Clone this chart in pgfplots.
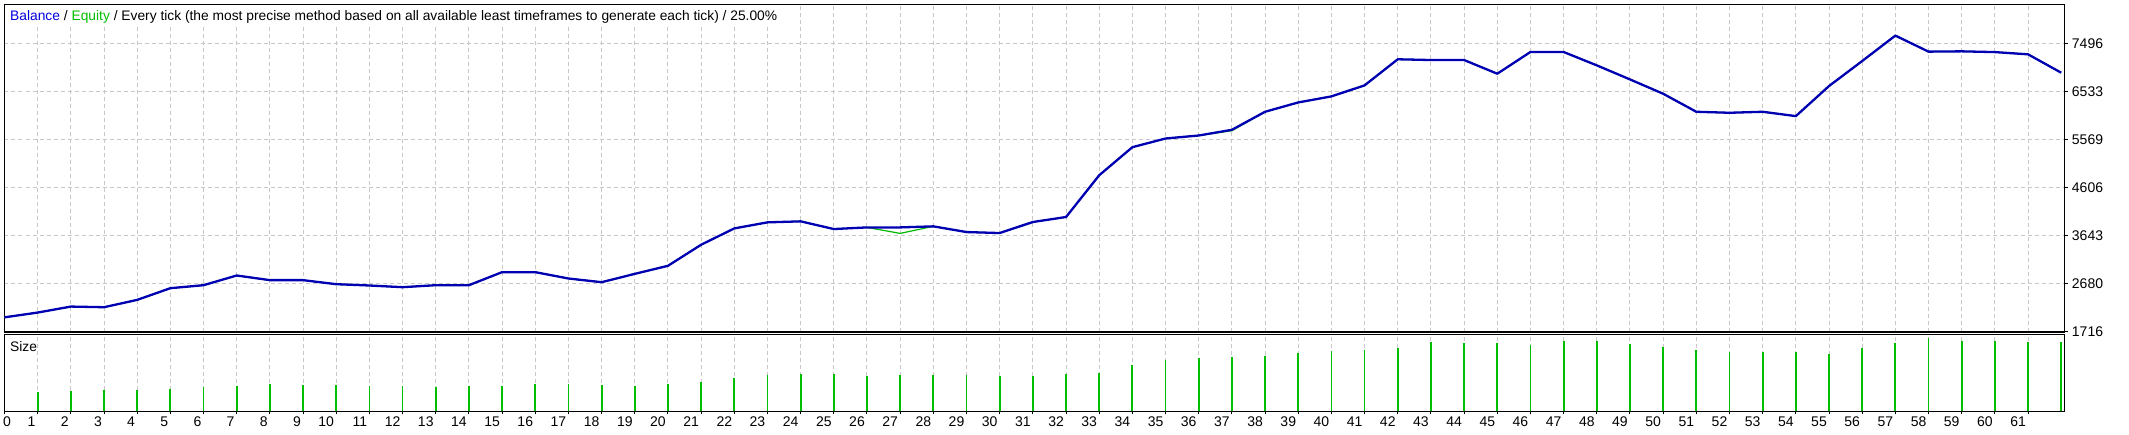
\documentclass[border=0pt]{standalone}
\usepackage{fontspec}
\setmainfont{Liberation Sans}
\usepackage{pgfplots}
\usepackage{pgfplotstable}
\pgfplotsset{compat=1.18}
\definecolor{balblue}{RGB}{0,0,178}
\definecolor{eqgreen}{RGB}{0,185,0}
\definecolor{sizegreen}{RGB}{0,190,0}
\definecolor{titleblue}{RGB}{0,0,220}
\definecolor{titlegreen}{RGB}{0,190,0}
\definecolor{gridgray}{RGB}{200,200,200}

\pgfplotstableread{
x bal eq
0 2010 2010
1 2105 2105
2 2225 2225
3 2212 2212
4 2359 2359
5 2593 2593
6 2653 2653
7 2847 2847
8 2754 2754
9 2754 2754
10 2673 2673
11 2647 2647
12 2613 2613
13 2653 2653
14 2653 2653
15 2914 2914
16 2914 2914
17 2787 2787
18 2713 2713
19 2880 2880
20 3041 3041
21 3463 3463
22 3790 3790
23 3911 3911
24 3931 3931
25 3777 3777
26 3810 3810
27 3810 3690
28 3831 3831
29 3717 3717
30 3697 3697
31 3918 3918
32 4018 4018
33 4854 4854
34 5416 5416
35 5590 5590
36 5650 5650
37 5764 5745
38 6125 6125
39 6312 6312
40 6433 6433
41 6654 6654
42 7176 7176
43 7161 7161
44 7161 7161
45 6887 6887
46 7322 7322
47 7322 7322
48 7054 7054
49 6773 6773
50 6486 6486
51 6125 6125
52 6105 6105
53 6125 6125
54 6038 6038
55 6640 6640
56 7141 7141
57 7650 7650
58 7329 7329
59 7335 7335
60 7320 7320
61 7275 7275
62 6907 6907
}\baldata

\pgfplotstableread{
x size
1 19.3
2 20.3
3 21.7
4 21.7
5 22.3
6 24.3
7 25.3
8 27.3
9 26.3
10 26.3
11 25.3
12 25.3
13 24.3
14 25.3
15 25.3
16 27.3
17 27.3
18 26.3
19 25.3
20 27.3
21 29.3
22 33.3
23 36.3
24 37.3
25 37.3
26 35.3
27 36.3
28 36.3
29 36.3
30 35.3
31 35.3
32 37.3
33 38.7
34 46.3
35 51.3
36 53.3
37 54.3
38 55.3
39 58.7
40 60.3
41 61.3
42 63.3
43 69.7
44 68.7
45 68.7
46 66.7
47 70.7
48 70.7
49 67.7
50 64.7
51 61.3
52 59.0
53 59.0
54 59.0
55 57.7
56 63.7
57 68.7
58 73.3
59 70.7
60 70.7
61 69.7
62 69.0
}\sizedata

\begin{document}
\begin{tikzpicture}
\useasboundingbox (0pt,0pt) rectangle (2129pt,435pt);
% ---------- top panel: balance / equity ----------
\begin{axis}[
  at={(4.5pt,103pt)}, anchor=south west,
  scale only axis, width=2060pt, height=327.7pt,
  xmin=0, xmax=62.1, ymin=1716, ymax=8277,
  xtick={1,...,61}, xticklabels={},
  xtick style={draw=none},
  ytick={1716,2679.33,3642.67,4606,5569.33,6532.67,7496},
  yticklabels={1716,2680,3643,4606,5569,6533,7496},
  ytick pos=right, yticklabel pos=right,
  tick align=outside, major tick length=3.5pt,
  ytick style={black, line width=1pt},
  xmajorgrids, ymajorgrids,
  major grid style={draw=gridgray, line width=1pt, dash pattern=on 4pt off 3pt},
  axis line style={black, line width=1.2pt},
  /pgf/number format/assume math mode=true,
  yticklabel style={anchor=west, inner sep=0pt, xshift=3.7pt, font=\fontsize{14}{16}\selectfont},
]
\addplot[eqgreen, line width=1.2pt, no marks] table[x=x, y=eq]{\baldata};
\addplot[balblue, line width=2.3pt, no marks, line join=round] table[x=x, y=bal]{\baldata};
\node[anchor=base west, fill=white, inner sep=0pt, text height=15.5pt, text depth=4pt,
      font=\fontsize{13.8}{16}\selectfont]
  at (rel axis cs:0,1) [xshift=5.5pt, yshift=-16.4pt]
  {\textcolor{titleblue}{Balance} / \textcolor{titlegreen}{Equity} / Every tick (the most precise method based on all available least timeframes to generate each tick) / 25.00\%};
\end{axis}
% ---------- bottom panel: size ----------
\begin{axis}[
  at={(4.5pt,23.5pt)}, anchor=south west,
  scale only axis, width=2060pt, height=77.3pt,
  xmin=0, xmax=62.1, ymin=0, ymax=77.3,
  xtick={1,...,61}, ytick=\empty,
  extra x ticks={0},
  extra x tick style={grid=none, xticklabel style={anchor=north west, xshift=0.5pt}},
  xtick pos=bottom,
  tick align=outside, major tick length=3pt,
  xtick style={black, line width=1pt},
  xmajorgrids,
  major grid style={draw=gridgray, line width=1pt, dash pattern=on 4pt off 3pt},
  axis line style={black, line width=1.2pt},
  /pgf/number format/assume math mode=true,
  xticklabel style={anchor=north east, inner sep=0pt, xshift=-2pt, yshift=-2.5pt, font=\fontsize{14}{16}\selectfont},
]
\addplot[ycomb, sizegreen, line width=1.8pt, no marks] table[x=x, y=size]{\sizedata};
\node[anchor=base west, inner sep=0pt, font=\fontsize{13.8}{16}\selectfont]
  at (rel axis cs:0,1) [xshift=5.5pt, yshift=-17.4pt] {Size};
\end{axis}
\end{tikzpicture}
\end{document}
